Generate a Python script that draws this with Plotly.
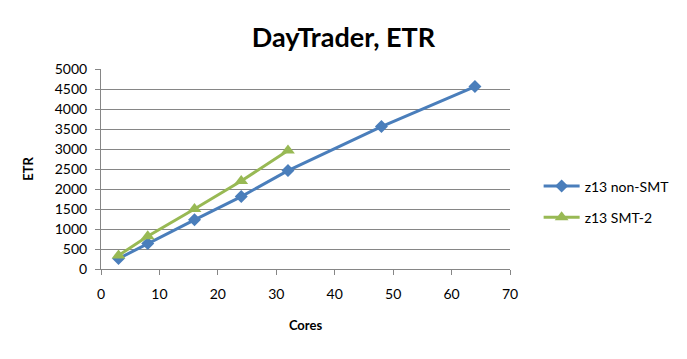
import plotly.graph_objects as go

cores_nonsmt = [3, 8, 16, 24, 32, 48, 64]
etr_nonsmt = [260, 640, 1230, 1810, 2460, 3560, 4560]
cores_smt = [3, 8, 16, 24, 32]
etr_smt = [340, 820, 1500, 2200, 2960]

FONT = "Lato, 'Open Sans', sans-serif"

fig = go.Figure()
fig.add_trace(go.Scatter(x=cores_nonsmt, y=etr_nonsmt, mode="lines+markers",
                         name="z13 non-SMT", legendgroup="a",
                         line=dict(color="#4a7ebb", width=3),
                         marker=dict(symbol="diamond", size=10, color="#4a7ebb")))
fig.add_trace(go.Scatter(x=cores_smt, y=etr_smt, mode="lines+markers",
                         name="z13 SMT-2", legendgroup="b",
                         line=dict(color="#98b954", width=3),
                         marker=dict(symbol="triangle-up", size=12, color="#98b954")))

fig.update_layout(
    width=687, height=359,
    margin=dict(l=101, r=175, t=69, b=90),
    paper_bgcolor="white", plot_bgcolor="white",
    font=dict(family=FONT, size=14, color="black"),
    title=dict(text="<b>DayTrader, ETR</b>", x=0.5, xanchor="center", y=0.895, yanchor="middle",
               xref="container", font=dict(size=27, family=FONT)),
    xaxis=dict(range=[0, 70], dtick=10, showgrid=False, showline=True, linecolor="#868686",
               ticks="outside", tickcolor="#868686", ticklen=5, zeroline=False,
               ticklabelstandoff=7,
               title=dict(text="<b>Cores</b>", font=dict(size=13), standoff=20),
               tickfont=dict(size=14)),
    yaxis=dict(range=[0, 5000], dtick=500, showgrid=True, gridcolor="#868686", gridwidth=1,
               showline=True, linecolor="#868686", ticks="outside", tickcolor="#868686", ticklen=5,
               zeroline=False, ticklabelstandoff=5,
               title=dict(text="<b>ETR</b>", font=dict(size=13), standoff=18),
               tickfont=dict(size=14)),
    legend=dict(x=1.07, y=0.335, xanchor="left", yanchor="middle", font=dict(size=14),
                bgcolor="rgba(0,0,0,0)", tracegroupgap=10, itemwidth=36),
    showlegend=True,
)

fig.write_html("out.html")
